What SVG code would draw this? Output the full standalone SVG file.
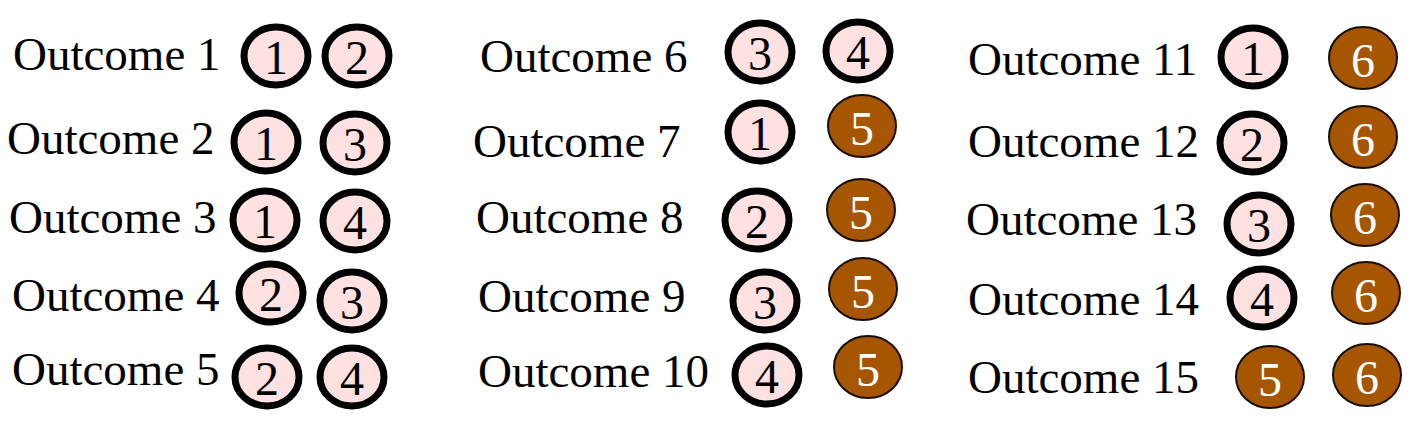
<svg xmlns="http://www.w3.org/2000/svg" width="1412" height="422" viewBox="0 0 1412 422">
<style>
.lbl{font-family:"Liberation Serif","Times New Roman",serif;font-size:47px;fill:#000}
.p{fill:#FFE1E1;stroke:#000;stroke-width:7}
.b{fill:#A65500;stroke:#1a0d00;stroke-width:2}
.pt{font-family:"Liberation Serif","Times New Roman",serif;font-size:48px;fill:#000;text-anchor:middle}
.bt{font-family:"Liberation Serif","Times New Roman",serif;font-size:48px;fill:#fff;text-anchor:middle}
</style>
<rect width="1412" height="422" fill="#fff"/>
<g id="outcome1"><text class="lbl" x="13" y="70">Outcome 1</text>
<ellipse class="p" cx="276" cy="56" rx="32" ry="29"/><text class="pt" x="276" y="74">1</text>
<ellipse class="p" cx="357" cy="56" rx="32" ry="29"/><text class="pt" x="357" y="74">2</text></g>
<g id="outcome2"><text class="lbl" x="7" y="154">Outcome 2</text>
<ellipse class="p" cx="266" cy="142" rx="32" ry="29"/><text class="pt" x="266" y="160">1</text>
<ellipse class="p" cx="355" cy="143" rx="32" ry="29"/><text class="pt" x="355" y="161">3</text></g>
<g id="outcome3"><text class="lbl" x="9" y="233">Outcome 3</text>
<ellipse class="p" cx="265" cy="220" rx="32" ry="29"/><text class="pt" x="265" y="238">1</text>
<ellipse class="p" cx="355" cy="221" rx="32" ry="29"/><text class="pt" x="355" y="239">4</text></g>
<g id="outcome4"><text class="lbl" x="12" y="311">Outcome 4</text>
<ellipse class="p" cx="271" cy="293" rx="32" ry="29"/><text class="pt" x="271" y="311">2</text>
<ellipse class="p" cx="352" cy="301" rx="32" ry="29"/><text class="pt" x="352" y="319">3</text></g>
<g id="outcome5"><text class="lbl" x="12" y="385">Outcome 5</text>
<ellipse class="p" cx="267" cy="377" rx="32" ry="29"/><text class="pt" x="267" y="395">2</text>
<ellipse class="p" cx="352" cy="377" rx="32" ry="29"/><text class="pt" x="352" y="395">4</text></g>
<g id="outcome6"><text class="lbl" x="480" y="72">Outcome 6</text>
<ellipse class="p" cx="760" cy="52" rx="32" ry="29"/><text class="pt" x="760" y="70">3</text>
<ellipse class="p" cx="858" cy="51" rx="32" ry="29"/><text class="pt" x="858" y="69">4</text></g>
<g id="outcome7"><text class="lbl" x="473" y="157">Outcome 7</text>
<ellipse class="p" cx="760" cy="132" rx="32" ry="29"/><text class="pt" x="760" y="150">1</text>
<ellipse class="b" cx="862" cy="126" rx="34" ry="31"/><text class="bt" x="862" y="145">5</text></g>
<g id="outcome8"><text class="lbl" x="476" y="233">Outcome 8</text>
<ellipse class="p" cx="757" cy="220" rx="32" ry="29"/><text class="pt" x="757" y="238">2</text>
<ellipse class="b" cx="861" cy="210" rx="34" ry="31"/><text class="bt" x="861" y="229">5</text></g>
<g id="outcome9"><text class="lbl" x="478" y="312">Outcome 9</text>
<ellipse class="p" cx="765" cy="301" rx="32" ry="29"/><text class="pt" x="765" y="319">3</text>
<ellipse class="b" cx="863" cy="289" rx="34" ry="31"/><text class="bt" x="863" y="308">5</text></g>
<g id="outcome10"><text class="lbl" x="478" y="387">Outcome 10</text>
<ellipse class="p" cx="767" cy="375" rx="32" ry="29"/><text class="pt" x="767" y="393">4</text>
<ellipse class="b" cx="868" cy="367" rx="34" ry="31"/><text class="bt" x="868" y="386">5</text></g>
<g id="outcome11"><text class="lbl" x="968" y="75">Outcome 11</text>
<ellipse class="p" cx="1253" cy="57" rx="32" ry="29"/><text class="pt" x="1253" y="75">1</text>
<ellipse class="b" cx="1363" cy="58" rx="34" ry="31"/><text class="bt" x="1363" y="77">6</text></g>
<g id="outcome12"><text class="lbl" x="968" y="157">Outcome 12</text>
<ellipse class="p" cx="1252" cy="143" rx="32" ry="29"/><text class="pt" x="1252" y="161">2</text>
<ellipse class="b" cx="1363" cy="137" rx="34" ry="31"/><text class="bt" x="1363" y="156">6</text></g>
<g id="outcome13"><text class="lbl" x="966" y="235">Outcome 13</text>
<ellipse class="p" cx="1259" cy="224" rx="32" ry="29"/><text class="pt" x="1259" y="242">3</text>
<ellipse class="b" cx="1365" cy="215" rx="34" ry="31"/><text class="bt" x="1365" y="234">6</text></g>
<g id="outcome14"><text class="lbl" x="968" y="315">Outcome 14</text>
<ellipse class="p" cx="1262" cy="298" rx="32" ry="29"/><text class="pt" x="1262" y="316">4</text>
<ellipse class="b" cx="1366" cy="293" rx="34" ry="31"/><text class="bt" x="1366" y="312">6</text></g>
<g id="outcome15"><text class="lbl" x="968" y="393">Outcome 15</text>
<ellipse class="b" cx="1270" cy="377" rx="34" ry="31"/><text class="bt" x="1270" y="396">5</text>
<ellipse class="b" cx="1367" cy="375" rx="34" ry="31"/><text class="bt" x="1367" y="394">6</text></g>
<g id="connectors"/>
</svg>
